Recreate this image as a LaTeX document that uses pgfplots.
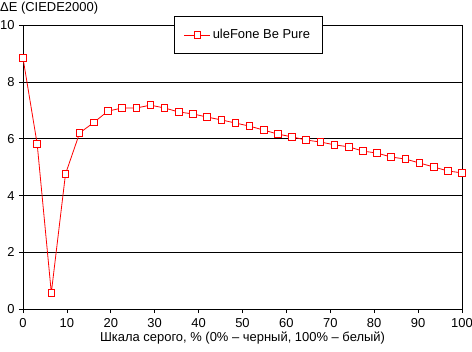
\documentclass[border=0pt]{standalone}
\usepackage{fontspec}
\setmainfont{Liberation Sans}
\usepackage{pgfplots}
\pgfplotsset{compat=1.18}
\begin{document}
\fontsize{13}{15}\selectfont
\begin{tikzpicture}
\useasboundingbox (-23bp,-43bp) rectangle (449bp,309bp);
\begin{axis}[
  scale only axis, width=439bp, height=283.5bp,
  at={(0,0)}, anchor=south west, clip=false,
  xmin=0, xmax=100, ymin=0, ymax=10,
  xtick={0,10,...,100}, ytick={0,2,...,10},
  xtick pos=bottom, ytick pos=left,
  tick align=outside, major tick length=4bp,
  tick style={black, line width=0.8bp},
  axis line style={black, line width=0.8bp},
  ymajorgrids, grid style={black, line width=0.8bp},
  /pgf/number format/assume math mode=true,
  ticklabel style={font=\fontsize{13}{15}\selectfont},
  xticklabel style={yshift=-1bp},
  yticklabel style={xshift=0bp},
  xlabel={Шкала серого, \% (0\% – черный, 100\% – белый)},
  xlabel style={yshift=5bp, font=\fontsize{13}{15}\selectfont},
  legend style={at={(rel axis cs:0.5125,0.966)}, anchor=center, draw=black, line width=0.8bp, fill=white, inner xsep=10bp, inner ysep=11bp, font=\fontsize{13}{15}\selectfont, legend cell align=left},
  legend image code/.code={\draw[#1, mark repeat=2, mark phase=2] plot coordinates {(0bp,0bp) (13bp,0bp) (26bp,0bp)};},
]
\addplot[red, line width=0.8bp, mark=square*, mark size=3.3bp, mark options={fill=white, draw=red, line width=0.9bp}] coordinates {
(0,8.85) (3.23,5.82) (6.45,0.57) (9.68,4.76) (12.90,6.21) (16.13,6.58)
(19.35,6.98) (22.58,7.09) (25.81,7.09) (29.03,7.19) (32.26,7.09) (35.48,6.95)
(38.71,6.88) (41.94,6.77) (45.16,6.67) (48.39,6.56) (51.61,6.45) (54.84,6.31)
(58.06,6.17) (61.29,6.07) (64.52,5.96) (67.74,5.89) (70.97,5.79) (74.19,5.72)
(77.42,5.57) (80.65,5.50) (83.87,5.36) (87.10,5.29) (90.32,5.15) (93.55,5.01)
(96.77,4.87) (100,4.80)
};
\addlegendentry{uleFone Be Pure}
\node[anchor=base west, inner sep=0] at (rel axis cs:0,1) [xshift=-23bp, yshift=14bp] {ΔE (CIEDE2000)};
\end{axis}
\end{tikzpicture}
\end{document}
